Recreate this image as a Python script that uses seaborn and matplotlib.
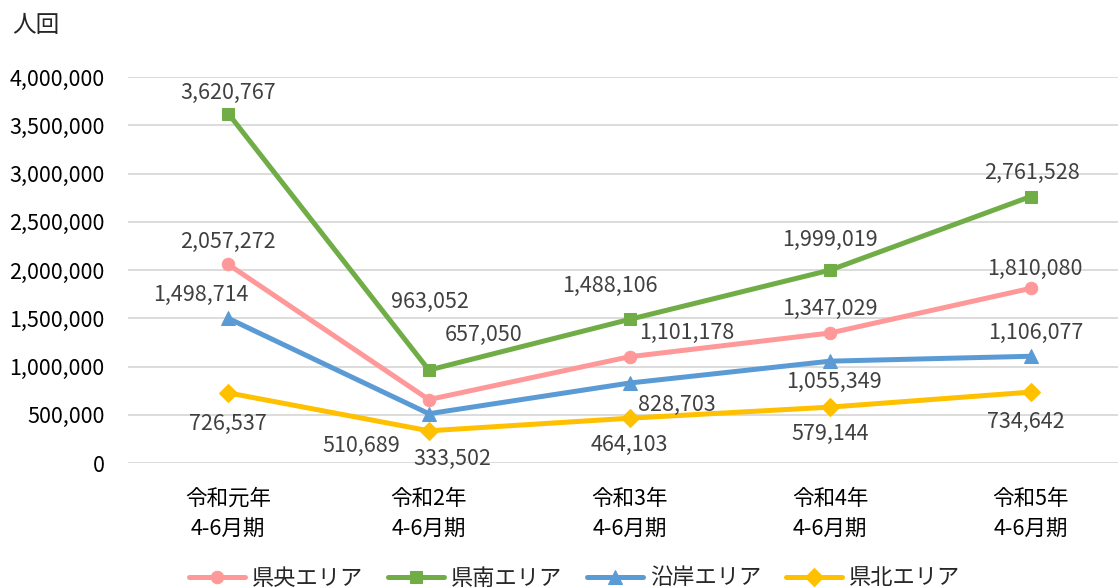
import matplotlib
matplotlib.use("Agg")
import matplotlib.pyplot as plt
import matplotlib.ticker as mticker
import pandas as pd
import seaborn as sns

# %% Datos
periodos = ["令和元年\n4-6月期", "令和2年\n4-6月期", "令和3年\n4-6月期",
            "令和4年\n4-6月期", "令和5年\n4-6月期"]
areas = ["県央エリア", "県南エリア", "沿岸エリア", "県北エリア"]

kenou = [2057272, 657050, 1101178, 1347029, 1810080]
kennan = [3620767, 963052, 1488106, 1999019, 2761528]
engan = [1498714, 510689, 828703, 1055349, 1106077]
kenhoku = [726537, 333502, 464103, 579144, 734642]

y_ticks = [0, 500000, 1000000, 1500000, 2000000, 2500000, 3000000, 3500000, 4000000]

# %% Estilos
colores = {"県央エリア": "#FF9999", "県南エリア": "#70AD47",
           "沿岸エリア": "#5B9BD5", "県北エリア": "#FFC000"}
marcadores = {"県央エリア": "o", "県南エリア": "s",
              "沿岸エリア": "^", "県北エリア": "D"}
tamanos = {"県央エリア": 9, "県南エリア": 9, "沿岸エリア": 10, "県北エリア": 9}

# desplazamiento de las etiquetas (pixeles, respecto del punto)
offsets = {
    "県央エリア": [(0, 23), (55, 65), (57, 24), (0, 24), (4, 19)],
    "県南エリア": [(0, 21), (1, 68), (-20, 33), (0, 30), (1, 24)],
    "沿岸エリア": [(-27, 23), (-68, -32), (47, -22), (4, -21), (5, 23)],
    "県北エリア": [(0, -31), (23, -28), (0, -27), (0, -27), (-5, -30)],
}

series = {"県央エリア": kenou, "県南エリア": kennan,
          "沿岸エリア": engan, "県北エリア": kenhoku}

df = pd.DataFrame([
    {"x": i, "periodo": periodos[i], "area": a, "valor": v}
    for a in areas for i, v in enumerate(series[a])
])

# %% Gráfico
sns.set_style("white")
plt.rcParams["font.family"] = ["Noto Sans CJK JP", "DejaVu Sans"]

fig = plt.figure(figsize=(11.18, 5.88), dpi=100)
ax = fig.add_axes([128 / 1118, 125 / 588, 1003 / 1118, 386 / 588])

for a in areas:
    sub = df[df["area"] == a]
    sns.lineplot(data=sub, x="x", y="valor", ax=ax, color=colores[a],
                 marker=marcadores[a], markersize=tamanos[a],
                 markeredgecolor=colores[a], linewidth=3.6, label=a,
                 sort=False, zorder=3)
    for i, v in enumerate(series[a]):
        dx, dy = offsets[a][i]
        ax.annotate(f"{v:,}", (i, v), xytext=(dx, dy), textcoords="offset pixels",
                    ha="center", va="center", fontsize=15.5, color="#404040",
                    zorder=4)

ax.set_xlim(-0.5, 4.5)
ax.set_ylim(0, 4000000)
ax.set_yticks(y_ticks)
ax.yaxis.set_major_formatter(mticker.FuncFormatter(lambda x, p: format(int(x), ',')))
ax.set_xticks(range(len(periodos)))
ax.set_xticklabels(periodos, linespacing=1.5)
ax.tick_params(axis="y", length=0, pad=17, labelsize=15.5, labelcolor="black")
ax.tick_params(axis="x", length=0, pad=18, labelsize=15.5, labelcolor="black")
ax.grid(axis="y", color="#D9D9D9", linewidth=1.3, zorder=0)
ax.grid(axis="x", visible=False)
for s in ax.spines.values():
    s.set_visible(False)
ax.set_xlabel("")
ax.set_ylabel("")

fig.text(12 / 1118, 1 - 25 / 588, "人回", fontsize=17, va="center", ha="left")

handles, labels = ax.get_legend_handles_labels()
ax.get_legend().remove()
fig.legend(handles, labels, ncol=4, loc="center", bbox_to_anchor=(0.514, 10 / 588),
           frameon=False, fontsize=16, handlelength=2.5, handletextpad=0.3,
           columnspacing=1.15)

fig.savefig("out.png", dpi=100)
